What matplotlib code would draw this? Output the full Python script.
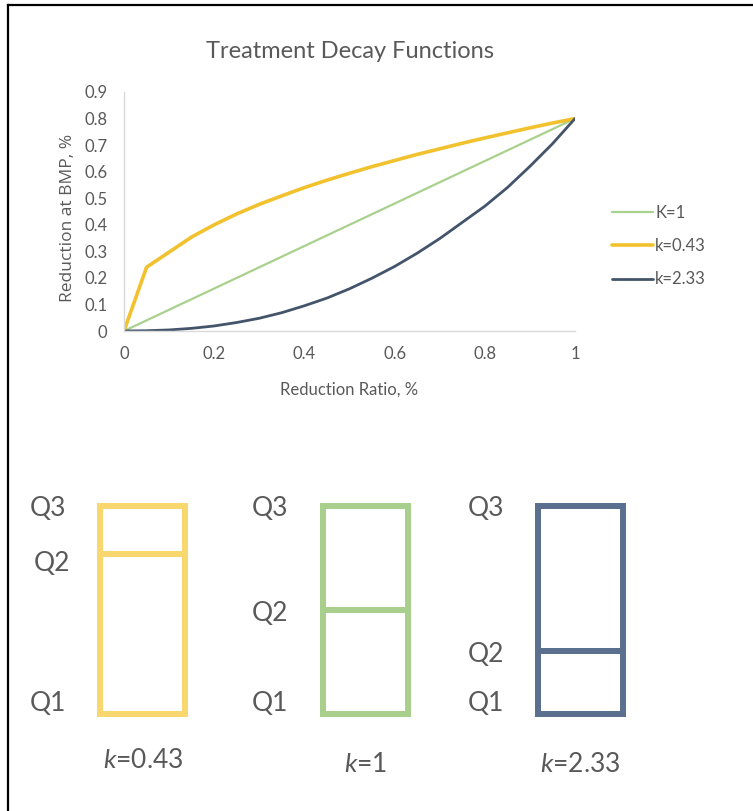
import matplotlib
matplotlib.use("Agg")
import matplotlib.pyplot as plt
from matplotlib.patches import Rectangle
from matplotlib.lines import Line2D
import matplotlib.transforms as mtransforms

plt.rcParams['font.family'] = ['Lato', 'DejaVu Sans']
plt.rcParams['mathtext.fontset'] = 'custom'
plt.rcParams['mathtext.it'] = 'Lato:italic'
plt.rcParams['mathtext.rm'] = 'Lato'

# ---------------- data ----------------
x_ratio = [0.0, 0.05, 0.10, 0.15, 0.20, 0.25, 0.30, 0.35, 0.40, 0.45, 0.50,
           0.55, 0.60, 0.65, 0.70, 0.75, 0.80, 0.85, 0.90, 0.95, 1.0]
k1_vals = [0.0, 0.04, 0.08, 0.12, 0.16, 0.20, 0.24, 0.28, 0.32, 0.36, 0.40,
           0.44, 0.48, 0.52, 0.56, 0.60, 0.64, 0.68, 0.72, 0.76, 0.80]
k043_vals = [0.0, 0.24, 0.297, 0.354, 0.400, 0.441, 0.477, 0.509, 0.540, 0.568, 0.594,
             0.619, 0.642, 0.665, 0.686, 0.707, 0.727, 0.746, 0.765, 0.783, 0.80]
k233_vals = [0.0, 0.001, 0.004, 0.010, 0.019, 0.032, 0.048, 0.069, 0.095, 0.124, 0.159,
             0.199, 0.243, 0.293, 0.348, 0.409, 0.470, 0.540, 0.620, 0.705, 0.80]
series_labels = ['K=1', 'k=0.43', 'k=2.33']

y_ticks = [0, 0.1, 0.2, 0.3, 0.4, 0.5, 0.6, 0.7, 0.8, 0.9]
y_ticklabels = ['0', '0.1', '0.2', '0.3', '0.4', '0.5', '0.6', '0.7', '0.8', '0.9']
x_ticks = [0, 0.2, 0.4, 0.6, 0.8, 1.0]
x_ticklabels = ['0', '0.2', '0.4', '0.6', '0.8', '1']

box_names = ['0.43', '1', '2.33']
box_q2 = [0.77, 0.50, 0.30]          # median position within Q1..Q3 (0..1)

# ---------------- styles ----------------
TXT = '#595959'
c_green = '#A9D18E'
c_gold = '#F2C12E'
c_blue = '#44546A'
box_colors = ['#F8D76E', '#A8CF8C', '#5B6F8F']

W, H = 753, 811
fig = plt.figure(figsize=(W / 100, H / 100), dpi=100)
fig.patch.set_facecolor('white')

def fx(px):
    return px / W

def fy(py):
    return 1 - py / H

# ---------------- top chart ----------------
ax = fig.add_axes([fx(124), fy(331), fx(575) - fx(124), fy(92) - fy(331)])
ax.plot(x_ratio, k1_vals, color=c_green, lw=1.6, label=series_labels[0], solid_capstyle='round')
ax.plot(x_ratio, k043_vals, color=c_gold, lw=2.6, label=series_labels[1], solid_capstyle='round')
ax.plot(x_ratio, k233_vals, color=c_blue, lw=2.0, label=series_labels[2], solid_capstyle='round')
ax.set_xlim(0, 1)
ax.set_ylim(0, 0.9)
ax.set_yticks(y_ticks)
ax.set_yticklabels(y_ticklabels)
ax.set_xticks(x_ticks)
ax.set_xticklabels(x_ticklabels)
for s in ['top', 'right']:
    ax.spines[s].set_visible(False)
for s in ['left', 'bottom']:
    ax.spines[s].set_color('#D9D9D9')
    ax.spines[s].set_linewidth(1.0)
ax.tick_params(length=0, labelsize=12, labelcolor=TXT)
ax.tick_params(axis='y', pad=12)
ax.tick_params(axis='x', pad=11)
ax.set_xlabel('Reduction Ratio, %', fontsize=12, color=TXT, labelpad=14)
ax.set_ylabel('Reduction at BMP, %', fontsize=12.5, color=TXT, family=['Open Sans', 'DejaVu Sans'])
ax.yaxis.set_label_coords((68 - 124) / (575 - 124), 0.475)
ax.yaxis.label.set_va('center')
fig.text(0.5 * (fx(124) + fx(575)) + fx(1), fy(51), 'Treatment Decay Functions', ha='center', va='center',
         fontsize=17, color=TXT)

handles, labels = ax.get_legend_handles_labels()
leg = fig.legend(handles, labels, loc='center left', bbox_to_anchor=(fx(612), fy(246)),
                 frameon=False, fontsize=12, handlelength=2.45, handletextpad=0.15,
                 labelspacing=1.05, borderpad=0, borderaxespad=0)
for t in leg.get_texts():
    t.set_color(TXT)

# ---------------- box diagrams ----------------
box_left = [100.3, 322.6, 538.0]
box_w = 85.0
box_top, box_bot = 506.3, 713.5
lw_box = 6 * 72 / 100

q2_off = [17.5, 11.5, 10.5]  # px below median line for Q2 baseline
for i in range(3):
    bx = fig.add_axes([fx(box_left[i]), fy(box_bot), box_w / W, (box_bot - box_top) / H])
    bx.set_xlim(0, 1)
    bx.set_ylim(0, 1)
    bx.axis('off')
    bx.add_patch(Rectangle((0, 0), 1, 1, fill=False, ec=box_colors[i], lw=lw_box,
                           joinstyle='miter', clip_on=False))
    bx.plot([0, 1], [box_q2[i], box_q2[i]], color=box_colors[i], lw=lw_box,
            solid_capstyle='butt', clip_on=False)

    def lab(txt, yv, dy_px, dx_px=-34, ha='right', size=19):
        tr = mtransforms.blended_transform_factory(
            bx.transAxes + mtransforms.ScaledTranslation(dx_px / 100, 0, fig.dpi_scale_trans),
            bx.transData + mtransforms.ScaledTranslation(0, -dy_px / 100, fig.dpi_scale_trans))
        bx.text(0, yv, txt, transform=tr, ha=ha, va='baseline', fontsize=size, color=TXT)

    lab('Q3', 1.0, 9.7)
    lab('Q1', 0.0, -2.8)
    lab('Q2', box_q2[i], q2_off[i], dx_px=(-30 if i == 0 else -34))
    tr = mtransforms.blended_transform_factory(
        bx.transAxes,
        bx.transData + mtransforms.ScaledTranslation(0, -(54.5 if i == 0 else 58.5) / 100, fig.dpi_scale_trans))
    bx.text(0.5, 0, r'$\mathit{k}$=' + box_names[i], transform=tr, ha='center', va='baseline',
            fontsize=19, color=TXT)

# ---------------- frame (top and left edges) ----------------
fig.add_artist(Line2D([fx(8), 1], [fy(5), fy(5)], color='black', lw=1.6, transform=fig.transFigure))
fig.add_artist(Line2D([fx(8), fx(8)], [fy(5), 0], color='black', lw=1.6, transform=fig.transFigure))

fig.savefig('out.png', dpi=100, facecolor='white')
